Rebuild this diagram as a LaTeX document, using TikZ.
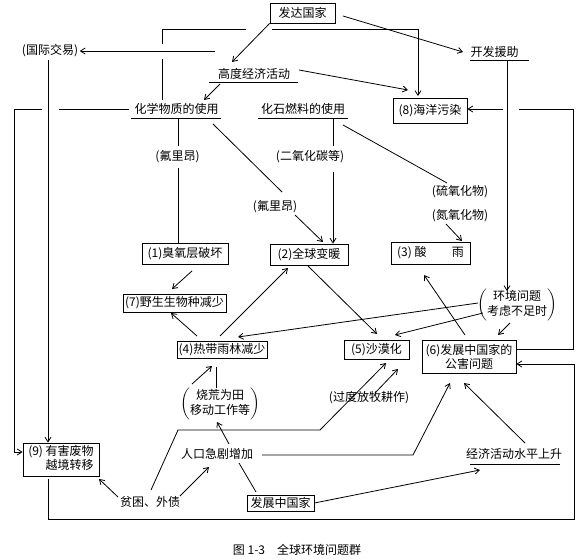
\documentclass[tikz,border=0pt]{standalone}
\usepackage{fontspec}
\setmainfont{Noto Sans CJK SC}
\usetikzlibrary{arrows.meta}
\begin{document}
\begin{tikzpicture}[x=0.75pt,y=-0.75pt,
  font=\fontsize{9pt}{10.5pt}\selectfont,
  line width=0.6pt,
  arr/.style={-{Straight Barb[length=3.5pt,width=4.5pt]}},
  bx/.style n args={2}{draw, inner sep=0pt, align=center, minimum width=#1*0.75pt, minimum height=#2*0.75pt},
  tx/.style={inner sep=1pt, align=center},
  ulin/.style={line width=0.6pt}]
\useasboundingbox (0,0) rectangle (582,560);

% boxes
\node[bx={65}{20}] (dev) at (302.5,13) {发达国家};
\node[bx={74}{25}] (b8) at (430,110.5) {(8)海洋污染};
\node[bx={86}{21}] (b1) at (185,253.5) {(1)臭氧层破坏};
\node[bx={78}{21}] (b2) at (309,254.5) {(2)全球变暖};
\node[bx={79}{22}] (b3) at (430.5,253) {(3) 酸\hspace{2.1em}雨};
\node[bx={103}{18}] (b7) at (174.5,303) {(7)野生生物种减少};
\node[bx={90}{17}] (b4) at (222,349.5) {(4)热带雨林减少};
\node[bx={65}{19}] (b5) at (376.5,349.5) {(5)沙漠化};
\node[bx={94}{33}] (b6) at (469,356.5) {(6)发展中国家的\\公害问题};
\node[bx={76}{33}] (b9) at (61,459.5) {\begin{tabular}{@{}l@{}}(9) 有害废物\\\phantom{(9) }越境转移\end{tabular}};
\node[bx={67}{16}] (dc) at (280.5,503) {发展中国家};

% text nodes
\node[tx] (trade) at (50,51) {(国际交易)};
\node[tx] (hea) at (254,74) {高度经济活动};
\node[tx] (chem) at (176.5,109) {化学物质的使用};
\node[tx] (fossil) at (303,109) {化石燃料的使用};
\node[tx] (aid) at (494.5,52) {开发援助};
\node[tx] (fr1) at (177.5,157) {(氟里昂)};
\node[tx] (co2) at (310,157) {(二氧化碳等)};
\node[tx] (fr2) at (275,207) {(氟里昂)};
\node[tx] (sox) at (460,192) {(硫氧化物)};
\node[tx] (nox) at (460,216) {(氮氧化物)};
\node[tx, inner sep=0pt] (env) at (517,305) {$\left(\mbox{\begin{tabular}{@{}c@{}}环境问题\\考虑不足时\end{tabular}}\right)$};
\node[tx, inner sep=0pt] (slash) at (220,404) {$\left(\mbox{\begin{tabular}{@{}c@{}}烧荒为田\\移动工作等\end{tabular}}\right)$};
\node[tx] (graze) at (369,398) {(过度放牧耕作)};
\node[tx] (pop) at (217,454) {人口急剧增加};
\node[tx] (poor) at (150,502) {贫困、外债};
\node[tx] (econ) at (514,454) {经济活动水平上升};
\node[tx] (cap) at (297,550) {图 1-3\hspace{1em}全球环境问题群};

% underlines
\draw[ulin] (209,82) -- (298,82);
\draw[ulin] (131,118) -- (221,118);
\draw[ulin] (258,118) -- (348,118);
\draw[ulin] (470,60) -- (529,60);
\draw[ulin] (470,464) -- (560,464);

% connectors
\draw[arr] (dev.south west) -- (232,62);
\draw[arr] (343,16) -- (463,52);
\draw (162,100) -- (162,59);
\draw (162,44) -- (162,29) -- (246,29);
\draw[arr] (272,29) -- (418,29) -- (418,96);
\draw[arr] (215,51) -- (trade.east);
\draw[arr] (299,70) -- (408,90);
\draw[arr] (220,84) -- (204,100);
\draw (129,109) -- (59,109);
\draw[arr] (42,109) -- (14,109) -- (14,452) -- (b9.west |- 0,452);
\draw[arr] (48,60) -- (b9.north -| 48,0);
\draw (178,118) -- (178,146);
\draw (178,168) -- (b1.north -| 178,0);
\draw (213,124) -- (282,192);
\draw[arr] (295,215) -- (323,242);
\draw (333,118) -- (333,146);
\draw[arr] (333,172) -- (b2.north -| 333,0);
\draw (343,125) -- (447,183);
\draw[arr] (446,224) -- (462,241);
\draw[arr] (192,271) -- (172,289);
\draw[arr] (197,336) -- (171,313);
\draw[arr] (220,336) -- (288,268);
\draw[arr] (308,266) -- (377,334);
\draw[arr] (465,335) -- (424,275);
\draw[arr] (507,60) -- (507,291);
\draw (b6.east |- 0,349) -- (573,349) -- (573,109) -- (519,109);
\draw[arr] (503,109) -- (b8.east |- 0,109);
\draw[arr] (48,479) -- (48,519) -- (574,519) -- (574,364) -- (b6.east |- 0,364);
\draw[arr] (478,303) -- (238,337);
\draw[arr] (483,313) -- (395,335);
\draw[arr] (510,323) -- (498,335);
\draw[arr] (192,384) -- (212,366);
\draw (216,388) -- (216,367);
\draw (256,492) -- (239,463);
\draw[arr] (229,444) -- (217,422);
\draw[arr] (262,455) -- (413,455) -- (450,383);
\draw[arr] (151,490) -- (178,430) -- (320,430) -- (386,363);
\draw[arr] (375,393) -- (398,369);
\draw[arr] (118,497) -- (99,479);
\draw[arr] (180,496) -- (209,467);
\draw[arr] (dc.east) -- (480,470);
\draw[arr] (525,443) -- (464,383);
\end{tikzpicture}
\end{document}
